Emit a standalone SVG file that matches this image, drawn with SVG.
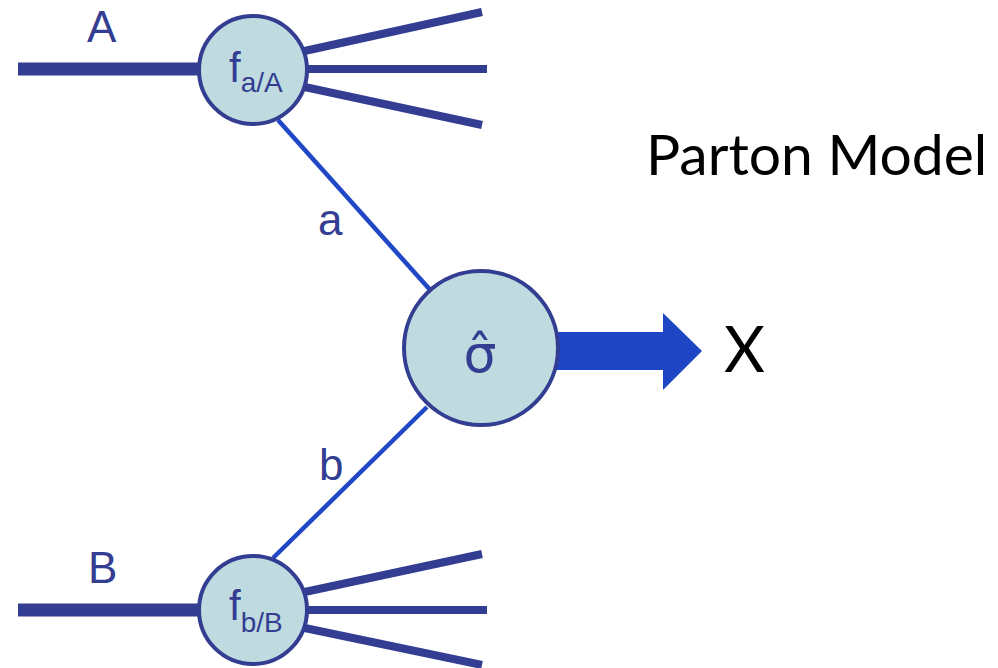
<svg xmlns="http://www.w3.org/2000/svg" width="998" height="668" viewBox="0 0 998 668">
<style>
.thick{stroke:#333d92;stroke-width:13;fill:none}
.out{stroke:#333d92;stroke-width:8;fill:none}
.prop{stroke:#1f47c6;stroke-width:4.5;fill:none}
.blob{fill:#bfdbe0;stroke:#333d92;stroke-width:4}
.lbl{font-family:"Liberation Sans",Arial,sans-serif;fill:#333d92}
.big{font-family:Lato,"Open Sans",sans-serif;fill:#000}
</style>
<rect width="998" height="668" fill="#fff"/>
<g id="connectors">
<line class="thick" x1="18" y1="69" x2="205" y2="69"/>
<line class="out" x1="300" y1="52" x2="482" y2="12"/>
<line class="out" x1="300" y1="69" x2="487" y2="69"/>
<line class="out" x1="300" y1="86" x2="482" y2="125"/>
<line class="thick" x1="18" y1="610" x2="205" y2="610"/>
<line class="out" x1="300" y1="593" x2="482" y2="554"/>
<line class="out" x1="300" y1="610" x2="487" y2="610"/>
<line class="out" x1="300" y1="627" x2="482" y2="665"/>
<line class="prop" x1="278" y1="120" x2="432" y2="292"/>
<line class="prop" x1="427" y1="407" x2="273" y2="558"/>
<polygon fill="#1e46c4" points="555,332 663,332 663,313 702,351 663,390 663,370 555,370"/>
</g>
<g id="nodeA">
<circle class="blob" cx="253" cy="70" r="54"/>
<text class="lbl" x="229" y="82" font-size="42">f<tspan font-size="28" dy="10">a/A</tspan></text>
</g>
<g id="nodeB">
<circle class="blob" cx="253" cy="610" r="54"/>
<text class="lbl" x="229" y="620" font-size="42">f<tspan font-size="28" dy="12">b/B</tspan></text>
</g>
<g id="sigma">
<circle class="blob" cx="481" cy="348" r="77"/>
<text x="480" y="372" font-size="52" text-anchor="middle" fill="#333d92" font-family="'DejaVu Sans',sans-serif">σ̂</text>
</g>
<g id="labels">
<text class="lbl" x="87" y="42" font-size="44">A</text>
<text class="lbl" x="88" y="583" font-size="44">B</text>
<text class="lbl" x="318" y="235" font-size="44">a</text>
<text class="lbl" x="319" y="480" font-size="44">b</text>
<text class="big" x="724" y="372" font-size="63">X</text>
<text class="big" x="646" y="175" font-size="57">Parton Model</text>
</g>
</svg>
